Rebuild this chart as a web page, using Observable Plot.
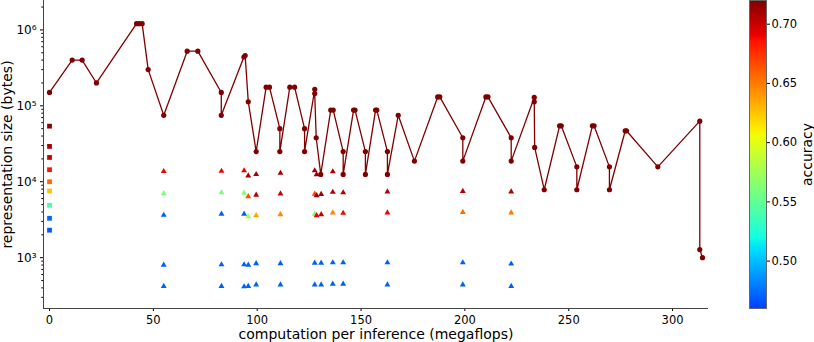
<!DOCTYPE html>
<html>
<head>
<meta charset="utf-8">
<script src="https://cdn.jsdelivr.net/npm/d3@7"></script>
<script src="https://cdn.jsdelivr.net/npm/@observablehq/plot@0.6"></script>
<style>
  html, body { margin: 0; padding: 0; background: white; }
  #wrap { display: flex; width: 814px; height: 342px; }
</style>
</head>
<body>
<div id="wrap"></div>
<script>
// ---- data: connected series (dark red circles) ----
const lineX = [0, 10.9, 15.7, 22.6, 41.9, 43.2, 44.6, 47.5, 55.0, 66.3, 71.4, 82.7, 82.7,
  93.6, 94.2, 95.7, 99.5, 104.3, 105.9, 110.9, 110.9, 115.7, 118.0, 122.8, 122.8,
  127.7, 127.7, 128.4, 130.6, 135.4, 136.6, 141.4, 141.4, 146.4, 147.1, 152.1, 152.1,
  157.0, 157.6, 162.7, 162.7, 167.9, 175.7, 186.9, 187.9, 199.0, 199.0, 210.1, 211.1,
  222.3, 222.3, 233.4, 233.4, 233.6, 238.2, 245.6, 246.4, 253.9, 253.9, 261.4, 262.2,
  269.6, 269.6, 277.2, 277.8, 292.9, 313.1, 313.1, 314.4];
const lineY = [1.5e5, 4.0e5, 4.0e5, 2.0e5, 1.21e6, 1.21e6, 1.21e6, 3.0e5, 7.5e4, 5.25e5, 5.25e5, 1.5e5, 7.5e4,
  4.4e5, 4.6e5, 1.13e5, 2.5e4, 1.76e5, 1.76e5, 5.0e4, 2.5e4, 1.76e5, 1.76e5, 5.0e4, 2.5e4,
  1.65e5, 1.45e5, 3.8e4, 1.25e4, 8.8e4, 8.8e4, 2.5e4, 1.25e4, 8.8e4, 8.8e4, 2.5e4, 1.25e4,
  8.8e4, 8.8e4, 2.5e4, 1.25e4, 7.5e4, 1.87e4, 1.31e5, 1.31e5, 3.8e4, 1.87e4, 1.31e5, 1.31e5,
  3.8e4, 1.87e4, 1.29e5, 1.13e5, 2.83e4, 7.85e3, 5.46e4, 5.46e4, 1.57e4, 7.85e3, 5.46e4, 5.46e4,
  1.57e4, 7.85e3, 4.69e4, 4.69e4, 1.57e4, 6.28e4, 1.28e3, 1.0e3];
const lineAccuracy = 0.72;

// ---- data: squares at zero computation ----
const squareX = [0, 0, 0, 0, 0, 0, 0, 0, 0];
const squareY = [5.4e4, 2.92e4, 2.09e4, 1.44e4, 1.0e4, 7.55e3, 4.9e3, 3.3e3, 2.3e3];
const squareAcc = [0.715, 0.708, 0.70, 0.685, 0.655, 0.625, 0.54, 0.472, 0.468];

// ---- data: triangles ----
const triX = [
  55.0, 55.0, 55.0, 55.0, 55.0,
  82.8, 82.8, 82.8, 82.8, 82.8,
  93.7, 93.7, 93.7, 93.7, 93.7,
  95.7, 95.7, 95.7, 95.7, 95.7,
  99.5, 99.5, 99.5, 99.5, 99.5,
  111.2, 111.2, 111.2, 111.2, 111.2,
  127.7, 127.7, 127.7, 127.7, 127.7,
  128.6, 128.6, 128.6,
  130.8, 130.8, 130.8, 130.8,
  136.4, 136.4, 136.4, 136.4, 136.4,
  141.4, 141.4, 141.4, 141.4,
  162.7, 162.7, 162.7, 162.7,
  199.0, 199.0, 199.0, 199.0,
  222.3, 222.3, 222.3, 222.3];
const triY = [
  1.37e4, 7.0e3, 3.63e3, 8.0e2, 4.2e2,
  1.38e4, 7.2e3, 3.76e3, 8.1e2, 4.2e2,
  1.4e4, 7.1e3, 3.76e3, 8.1e2, 4.15e2,
  1.2e4, 6.4e3, 3.47e3, 8.0e2, 4.2e2,
  1.25e4, 6.7e3, 3.6e3, 8.4e2, 4.4e2,
  1.3e4, 6.95e3, 3.7e3, 8.4e2, 4.4e2,
  1.4e4, 6.9e3, 3.76e3, 8.5e2, 4.4e2,
  1.24e4, 6.6e3, 3.6e3,
  6.85e3, 3.7e3, 8.5e2, 4.4e2,
  1.36e4, 7.3e3, 3.9e3, 8.6e2, 4.5e2,
  7.2e3, 3.86e3, 8.6e2, 4.5e2,
  7.4e3, 3.9e3, 8.6e2, 4.4e2,
  7.5e3, 3.96e3, 8.6e2, 4.4e2,
  7.4e3, 3.9e3, 8.3e2, 4.2e2];
const triAcc = [
  0.69, 0.56, 0.47, 0.47, 0.47,
  0.69, 0.56, 0.47, 0.47, 0.47,
  0.69, 0.56, 0.47, 0.47, 0.47,
  0.71, 0.665, 0.575, 0.47, 0.47,
  0.71, 0.705, 0.635, 0.47, 0.47,
  0.71, 0.70, 0.645, 0.47, 0.47,
  0.71, 0.665, 0.56, 0.47, 0.47,
  0.715, 0.71, 0.69,
  0.71, 0.70, 0.47, 0.47,
  0.71, 0.705, 0.645, 0.47, 0.47,
  0.705, 0.69, 0.47, 0.47,
  0.705, 0.69, 0.47, 0.47,
  0.705, 0.655, 0.47, 0.47,
  0.705, 0.65, 0.47, 0.47];

// ---- axes / ticks ----
const xDomain = [-2.9, 317.3];
const yDomain = [214, 2.44e6];
const xTicks = [0, 50, 100, 150, 200, 250, 300];
const yMajor = [1e3, 1e4, 1e5, 1e6];
const yMinor = [];
for (let e = 2; e <= 6; e++) for (let m = 2; m <= 9; m++) {
  const v = m * Math.pow(10, e);
  if (v >= yDomain[0] && v <= yDomain[1]) yMinor.push(v);
}
const accDomain = [0.46, 0.72];
const cbTicks = [0.50, 0.55, 0.60, 0.65, 0.70];

// ---- jet colormap (matplotlib segment data) ----
const jetSeg = {
  r: [[0, 0], [0.35, 0], [0.66, 1], [0.89, 1], [1, 0.5]],
  g: [[0, 0], [0.125, 0], [0.375, 1], [0.64, 1], [0.91, 0], [1, 0]],
  b: [[0, 0.5], [0.11, 1], [0.34, 1], [0.65, 0], [1, 0]]
};
function segInterp(pts, t) {
  t = Math.max(0, Math.min(1, t));
  for (let i = 1; i < pts.length; i++) {
    if (t <= pts[i][0]) {
      const [t0, v0] = pts[i - 1], [t1, v1] = pts[i];
      return v0 + (v1 - v0) * (t - t0) / (t1 - t0);
    }
  }
  return pts[pts.length - 1][1];
}
function jet(t) {
  const r = Math.round(255 * segInterp(jetSeg.r, t));
  const g = Math.round(255 * segInterp(jetSeg.g, t));
  const b = Math.round(255 * segInterp(jetSeg.b, t));
  return `rgb(${r},${g},${b})`;
}
const colorOpts = {
  type: "linear",
  domain: accDomain,
  clamp: true,
  interpolate: (t) => jet(0.1875 + 0.8125 * t)
};

// ---- tables ----
const lineData = lineX.map((x, i) => ({x, y: lineY[i], acc: lineAccuracy}));
const squareData = squareX.map((x, i) => ({x, y: squareY[i], acc: squareAcc[i]}));
const triData = triX.map((x, i) => ({x, y: triY[i], acc: triAcc[i]}));

const sup = {"0": "⁰", "1": "¹", "2": "²", "3": "³", "4": "⁴", "5": "⁵", "6": "⁶", "7": "⁷"};
const logFmt = (d) => "10" + sup[String(Math.round(Math.log10(d)))];

const baseStyle = {fontFamily: "DejaVu Sans", fontSize: "11.5px", color: "black", background: "white", overflow: "visible"};

const main = Plot.plot({
  width: 740, height: 342,
  marginLeft: 43, marginRight: 32, marginTop: 0, marginBottom: 34,
  style: baseStyle,
  x: {domain: xDomain},
  y: {type: "log", domain: yDomain},
  color: colorOpts,
  marks: [
    Plot.axisX({ticks: xTicks, tickSize: 3, tickPadding: 4, tickFormat: d3.format("d"), label: null}),
    Plot.axisY({ticks: yMajor, tickSize: 3, tickPadding: 4, tickFormat: logFmt, label: null, fontSize: 12}),
    Plot.axisY({ticks: yMinor, tickSize: 1.7, tickFormat: () => "", label: null}),
    Plot.ruleX([xDomain[0]], {stroke: "#444", strokeWidth: 1}),
    Plot.ruleY([yDomain[0]], {stroke: "#444", strokeWidth: 1}),
    Plot.dot(triData, {x: "x", y: "y", fill: "acc", symbol: "triangle", r: 2.2}),
    Plot.dot(squareData, {x: "x", y: "y", fill: "acc", symbol: "square", r: 2.7}),
    Plot.line(lineData, {x: "x", y: "y", stroke: "acc", strokeWidth: 1.3}),
    Plot.dot(lineData, {x: "x", y: "y", fill: "acc", r: 2.6}),
    Plot.text(["computation per inference (megaflops)"], {text: (d) => d, frameAnchor: "bottom", textAnchor: "middle", lineAnchor: "middle", dy: 26, fontSize: 14}),
    Plot.text(["representation size (bytes)"], {text: (d) => d, frameAnchor: "left", textAnchor: "middle", lineAnchor: "middle", dx: -35.5, rotate: -90, fontSize: 14})
  ]
});

const barStep = 0.0005;
const barSteps = d3.range(accDomain[0], accDomain[1], barStep);

const bar = Plot.plot({
  width: 74, height: 342,
  marginLeft: 9, marginRight: 48, marginTop: 0, marginBottom: 34,
  style: baseStyle,
  x: {domain: [0, 1], axis: null},
  y: {domain: accDomain},
  color: colorOpts,
  marks: [
    Plot.rect(barSteps, {x1: () => 0, x2: () => 1, y1: (d) => d, y2: (d) => Math.min(accDomain[1], d + barStep * 1.6), fill: (d) => d + barStep / 2, shapeRendering: "crispEdges"}),
    Plot.frame({stroke: "#666"}),
    Plot.axisY({anchor: "right", ticks: cbTicks, tickSize: 3, tickPadding: 2, tickFormat: d3.format(".2f"), label: null}),
    Plot.text(["accuracy"], {text: (d) => d, frameAnchor: "right", textAnchor: "middle", lineAnchor: "middle", dx: 41, rotate: -90, fontSize: 14})
  ]
});

const wrap = document.getElementById("wrap");
wrap.appendChild(main);
wrap.appendChild(bar);
</script>
</body>
</html>
